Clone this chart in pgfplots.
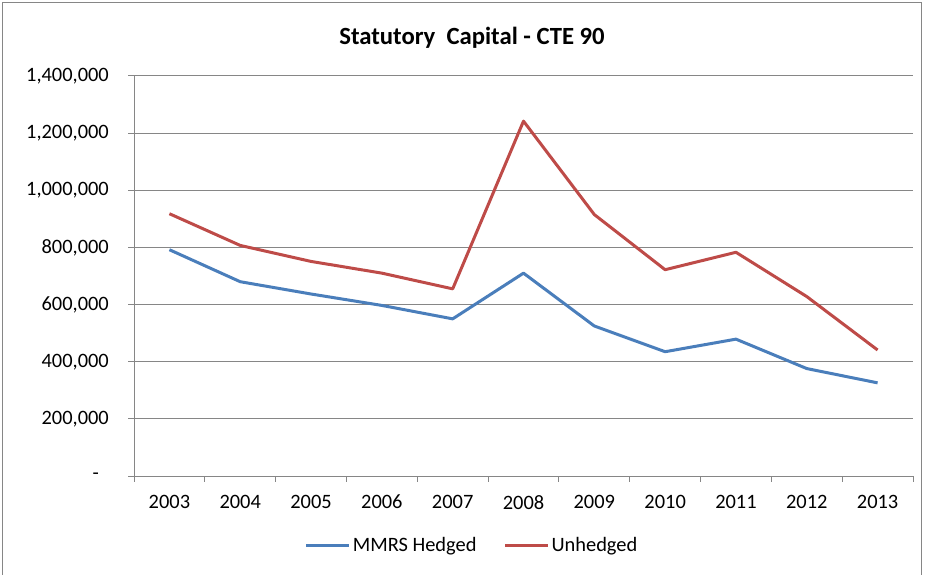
\documentclass[border=0pt]{standalone}
\usepackage{pgfplots}
\pgfplotsset{compat=1.18}
\usepackage{fontspec}
\setmainfont{Carlito}
\definecolor{hedged}{HTML}{4A7EBB}
\definecolor{unhedged}{HTML}{BE4B48}
\definecolor{gridc}{HTML}{868686}
\begin{document}
\begin{tikzpicture}
\useasboundingbox (0bp,0bp) rectangle (925bp,575bp);
\draw[gridc, line width=1.2bp] (2.5bp,0bp) -- (2.5bp,572.5bp) -- (921.5bp,572.5bp) -- (921.5bp,0bp);
\node[font=\fontsize{24.8}{28}\selectfont\bfseries] at (472bp,537bp) {Statutory\ \ Capital - CTE 90};
\begin{axis}[
  at={(134bp,99bp)}, anchor=south west,
  width=779bp, height=400bp, scale only axis,
  xmin=-0.5, xmax=10.5, ymin=0, ymax=1400000,
  axis x line=bottom, axis y line=left,
  axis line style={-, gridc, line width=1bp},
  scaled y ticks=false,
  ytick={0,200000,400000,600000,800000,1000000,1200000,1400000},
  yticklabels={{-\rule{10bp}{0pt}},{200,000},{400,000},{600,000},{800,000},{1,000,000},{1,200,000},{1,400,000}},
  ymajorgrids, grid style={gridc, line width=1bp},
  tick align=outside, major tick length=6bp,
  tick style={gridc, line width=1bp},
  xtick={-0.5,0.5,...,10.5}, xticklabels={},
  extra x ticks={0,1,2,3,4,5,6,7,8,9,10},
  extra x tick labels={2003,2004,2005,2006,2007,2008,2009,2010,2011,2012,2013},
  extra x tick style={major tick length=0pt, grid=none},
  ticklabel style={font=\fontsize{20.5}{24}\selectfont, text=black},
  yticklabel style={anchor=east, inner sep=0pt, xshift=-19bp},
  xticklabel style={anchor=north, inner sep=0pt, yshift=-19bp},
  /pgf/number format/assume math mode=true,
  legend columns=2,
  legend style={draw=none, fill=none, at={(0.434,-0.1725)}, anchor=center,
    font=\fontsize{20.5}{24}\selectfont,
    /tikz/every even column/.append style={column sep=25bp}},
  legend image code/.code={\draw[#1] (0bp,0bp) -- (43bp,0bp);},
  every axis plot/.append style={line width=3bp, line join=round, mark=none},
  clip=false,
]
\addplot[hedged] coordinates {(0,792000) (1,680000) (2,637000) (3,597000) (4,550000) (5,710000) (6,525000) (7,435000) (8,479000) (9,376000) (10,326000)};
\addlegendentry{MMRS Hedged}
\addplot[unhedged] coordinates {(0,918000) (1,807000) (2,751000) (3,710000) (4,655000) (5,1242000) (6,915000) (7,722000) (8,783000) (9,628000) (10,441000)};
\addlegendentry{Unhedged}
\end{axis}
\end{tikzpicture}
\end{document}
